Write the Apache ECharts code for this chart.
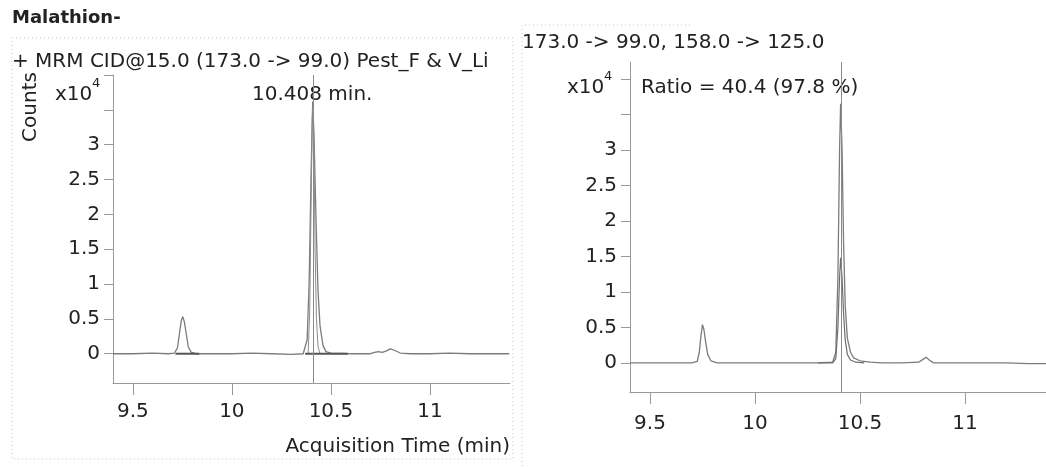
<!DOCTYPE html>
<html>
<head>
<meta charset="utf-8">
<script src="https://cdn.jsdelivr.net/npm/echarts@6/dist/echarts.min.js"></script>
<style>
  html, body { margin: 0; padding: 0; background: #fff; }
  #main { width: 1046px; height: 468px; }
</style>
</head>
<body>
<div id="main"></div>
<script>
// values in units of x10^4 counts, time in min
var quantLeft = [
    [9.40, 0.00], [9.50, 0.00], [9.60, 0.01], [9.68, 0.00], [9.71, 0.01],
    [9.725, 0.08], [9.735, 0.28], [9.745, 0.48], [9.752, 0.53], [9.76, 0.46],
    [9.77, 0.28], [9.78, 0.10], [9.795, 0.02], [9.82, 0.00], [9.90, 0.00],
    [10.00, 0.00], [10.10, 0.01], [10.20, 0.00], [10.30, -0.01], [10.36, 0.00],
    [10.37, 0.02], [10.38, 0.20], [10.39, 1.00], [10.40, 2.60], [10.408, 3.62],
    [10.415, 3.10], [10.425, 1.90], [10.435, 0.90], [10.445, 0.40], [10.46, 0.12],
    [10.475, 0.03], [10.50, 0.01], [10.60, 0.00], [10.70, 0.00], [10.72, 0.02],
    [10.74, 0.03], [10.76, 0.02], [10.78, 0.04], [10.80, 0.07], [10.82, 0.05],
    [10.85, 0.01], [10.90, 0.00], [11.00, 0.00], [11.10, 0.01], [11.20, 0.00],
    [11.30, 0.00], [11.40, 0.00]
];
var quantLeftInner = [
    [10.385, 0.00], [10.393, 0.60], [10.40, 2.20], [10.406, 3.40], [10.41, 3.55],
    [10.415, 2.90], [10.42, 1.50], [10.427, 0.50], [10.435, 0.10], [10.445, 0.00]
];
var baseLeftA = [[9.715, 0.00], [9.835, 0.00]];
var baseLeftB = [[10.37, 0.00], [10.585, 0.00]];

var quantRight = [
    [9.405, 0.00], [9.50, 0.00], [9.60, 0.00], [9.70, 0.00], [9.725, 0.02],
    [9.735, 0.15], [9.743, 0.38], [9.75, 0.54], [9.757, 0.47], [9.765, 0.30],
    [9.775, 0.12], [9.79, 0.03], [9.82, 0.00], [9.90, 0.00], [10.00, 0.00],
    [10.10, 0.00], [10.20, 0.00], [10.30, 0.00], [10.37, 0.01], [10.385, 0.15],
    [10.395, 1.20], [10.403, 3.00], [10.408, 3.65], [10.415, 3.00], [10.422, 1.70],
    [10.43, 0.80], [10.44, 0.35], [10.455, 0.15], [10.47, 0.07], [10.50, 0.03],
    [10.55, 0.01], [10.60, 0.00], [10.70, 0.00], [10.78, 0.01], [10.80, 0.05],
    [10.815, 0.08], [10.83, 0.04], [10.85, 0.00], [11.00, 0.00], [11.10, 0.00],
    [11.20, 0.00], [11.30, -0.01], [11.386, -0.01]
];
var qualRight = [
    [10.30, 0.00], [10.37, 0.00], [10.385, 0.06], [10.395, 0.50], [10.403, 1.20],
    [10.408, 1.48], [10.415, 1.20], [10.422, 0.70], [10.43, 0.32], [10.44, 0.12],
    [10.455, 0.04], [10.48, 0.01], [10.52, 0.00]
];

var rtMarker = 10.408;
var xTicks = [9.5, 10, 10.5, 11];
var yTicks = [0, 0.5, 1, 1.5, 2, 2.5, 3, 3.5, 4];
var yLabels = [0, 0.5, 1, 1.5, 2, 2.5, 3];

var FONT = 'DejaVu Sans';
var TXT = '#222';
var AX = '#9a9a9a';
var TRACE = '#7c7c7c';

function xAxisOf(idx, min, max, margin) {
    return {
        type: 'value', gridIndex: idx, min: min, max: max,
        axisLine: { show: true, onZero: false, lineStyle: { color: AX, width: 1 } },
        axisTick: { show: true, customValues: xTicks, length: 12, lineStyle: { color: AX } },
        axisLabel: { customValues: xTicks, margin: margin, color: TXT, fontSize: 20, fontFamily: FONT },
        splitLine: { show: false }
    };
}
function yAxisOf(idx, min, max) {
    return {
        type: 'value', gridIndex: idx, min: min, max: max,
        axisLine: { show: true, onZero: false, lineStyle: { color: AX, width: 1 } },
        axisTick: { show: true, customValues: yTicks, length: 9, lineStyle: { color: AX } },
        axisLabel: { customValues: yLabels, margin: 13, color: TXT, fontSize: 20, fontFamily: FONT },
        splitLine: { show: false }
    };
}
function trace(data, xi, color, width) {
    return {
        type: 'line', xAxisIndex: xi, yAxisIndex: xi, data: data,
        showSymbol: false, symbol: 'none', silent: true,
        lineStyle: { color: color, width: width }
    };
}
function marker() {
    return {
        symbol: 'none', silent: true, label: { show: false },
        lineStyle: { color: '#8a8a8a', width: 1, type: 'solid' },
        data: [{ xAxis: rtMarker }]
    };
}
function txt(x, y, s, opt) {
    var st = { text: s, fill: TXT, font: '20px "' + FONT + '"', textVerticalAlign: 'middle' };
    for (var k in (opt || {})) st[k] = opt[k];
    return { type: 'text', x: x, y: y, style: st };
}

var chart = echarts.init(document.getElementById('main'), null, { renderer: 'canvas' });

var s0 = trace(quantLeft, 0, TRACE, 1.3);
s0.markLine = marker();
var s3 = trace(quantRight, 1, TRACE, 1.3);
s3.markLine = marker();

chart.setOption({
    animation: false,
    backgroundColor: '#fff',
    grid: [
        { left: 113, top: 75, width: 397, height: 308 },
        { left: 630, top: 62, width: 416, height: 330 }
    ],
    xAxis: [xAxisOf(0, 9.4, 11.404, 19), xAxisOf(1, 9.405, 11.386, 22)],
    yAxis: [yAxisOf(0, -0.42, 4.0), yAxisOf(1, -0.41, 4.24)],
    series: [
        s0,
        trace(quantLeftInner, 0, '#8c8c8c', 1),
        trace(baseLeftA, 0, '#555', 2),
        trace(baseLeftB, 0, '#555', 2),
        s3,
        trace(qualRight, 1, '#6e6e6e', 1.2)
    ],
    graphic: [
        // dotted panel frames
        { type: 'rect', shape: { x: 12, y: 38, width: 501, height: 421 }, silent: true,
          style: { fill: 'none', stroke: '#c4c4c4', lineWidth: 1, lineDash: [1, 3] } },
        { type: 'polyline', shape: { points: [[690, 25], [522, 25], [522, 468]] }, silent: true,
          style: { fill: 'none', stroke: '#c4c4c4', lineWidth: 1, lineDash: [1, 3] } },
        txt(12, 18, 'Malathion-', { font: 'bold 18px "' + FONT + '"' }),
        txt(12, 62, '+ MRM CID@15.0 (173.0 -> 99.0) Pest_F & V_Li'),
        {
            type: 'text', x: 31, y: 107, rotation: Math.PI / 2,
            style: { text: 'Counts', fill: TXT, font: '20px "' + FONT + '"',
                     textAlign: 'center', textVerticalAlign: 'middle' }
        },
        txt(55, 95, 'x10'),
        txt(92, 84, '4', { font: '13px "' + FONT + '"' }),
        txt(252, 95, '10.408 min.'),
        txt(510, 447, 'Acquisition Time (min)', { textAlign: 'right' }),
        txt(522, 43, '173.0 -> 99.0, 158.0 -> 125.0'),
        txt(567, 88, 'x10'),
        txt(604, 77, '4', { font: '13px "' + FONT + '"' }),
        txt(641, 88, 'Ratio = 40.4 (97.8 %)')
    ]
});
</script>
</body>
</html>
